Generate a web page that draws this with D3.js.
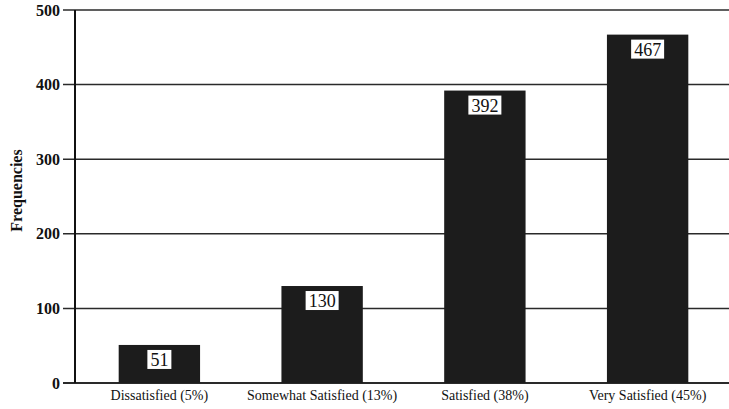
<!DOCTYPE html>
<html>
<head>
<meta charset="utf-8">
<script src="https://cdn.jsdelivr.net/npm/d3@7"></script>
<style>
  body { margin: 0; background: #fff; }
</style>
</head>
<body>
<div id="chart"></div>
<script>
// data
var categories = ["Dissatisfied (5%)", "Somewhat Satisfied (13%)", "Satisfied (38%)", "Very Satisfied (45%)"];
var frequencies = [51, 130, 392, 467];
var yTicks = [0, 100, 200, 300, 400, 500];

var width = 729, height = 409;
var margin = { top: 10, right: 0, bottom: 26, left: 75 };
var serif = "'Liberation Serif', 'Times New Roman', Times, serif";

var svg = d3.select("#chart").append("svg")
    .attr("width", width)
    .attr("height", height)
    .attr("font-family", serif)
    .attr("fill", "#111");

var x = d3.scaleBand()
    .domain(categories)
    .range([margin.left + 3, width])
    .paddingInner(0.5)
    .paddingOuter(0.25);

var y = d3.scaleLinear()
    .domain([0, 500])
    .range([height - margin.bottom, margin.top]);

// gridlines + ticks (grid runs from the tick mark to the right edge)
svg.append("g")
    .selectAll("line")
    .data(yTicks)
    .enter()
    .append("line")
    .attr("x1", margin.left - 12)
    .attr("x2", width)
    .attr("y1", d => y(d))
    .attr("y2", d => y(d))
    .attr("stroke", "#2a2a2a")
    .attr("stroke-width", d => d === 0 ? 2 : 1.5);

// y axis line
svg.append("line")
    .attr("x1", margin.left)
    .attr("x2", margin.left)
    .attr("y1", y(500))
    .attr("y2", y(0))
    .attr("stroke", "#111")
    .attr("stroke-width", 2);

// tick labels
svg.append("g")
    .selectAll("text")
    .data(yTicks)
    .enter()
    .append("text")
    .attr("x", margin.left - 15)
    .attr("y", d => y(d))
    .attr("dy", "0.35em")
    .attr("text-anchor", "end")
    .attr("font-family", serif)
    .attr("font-size", 16)
    .attr("font-weight", "bold")
    .text(d => d);

// axis title
svg.append("text")
    .attr("transform", "translate(22," + (y(250) - 6) + ") rotate(-90)")
    .attr("text-anchor", "middle")
    .attr("font-family", serif)
    .attr("font-size", 16)
    .attr("font-weight", "bold")
    .text("Frequencies");

// bars
var bars = svg.append("g")
    .selectAll("g")
    .data(frequencies)
    .enter()
    .append("g");

bars.append("rect")
    .attr("x", (d, i) => x(categories[i]))
    .attr("y", d => y(d))
    .attr("width", x.bandwidth())
    .attr("height", d => y(0) - y(d))
    .attr("fill", "#1c1c1c");

// value boxes
bars.append("rect")
    .attr("x", (d, i) => x(categories[i]) + x.bandwidth() / 2 - (String(d).length * 4.5 + 3))
    .attr("y", d => y(d) + 5)
    .attr("width", d => String(d).length * 9 + 6)
    .attr("height", 19)
    .attr("fill", "#fff");

bars.append("text")
    .attr("x", (d, i) => x(categories[i]) + x.bandwidth() / 2)
    .attr("y", d => y(d) + 15)
    .attr("dy", "0.35em")
    .attr("text-anchor", "middle")
    .attr("font-family", serif)
    .attr("font-size", 18)
    .text(d => d);

// category labels
svg.append("g")
    .selectAll("text")
    .data(categories)
    .enter()
    .append("text")
    .attr("x", d => x(d) + x.bandwidth() / 2)
    .attr("y", height - 9)
    .attr("text-anchor", "middle")
    .attr("font-family", serif)
    .attr("font-size", 14)
    .text(d => d);
</script>
</body>
</html>
